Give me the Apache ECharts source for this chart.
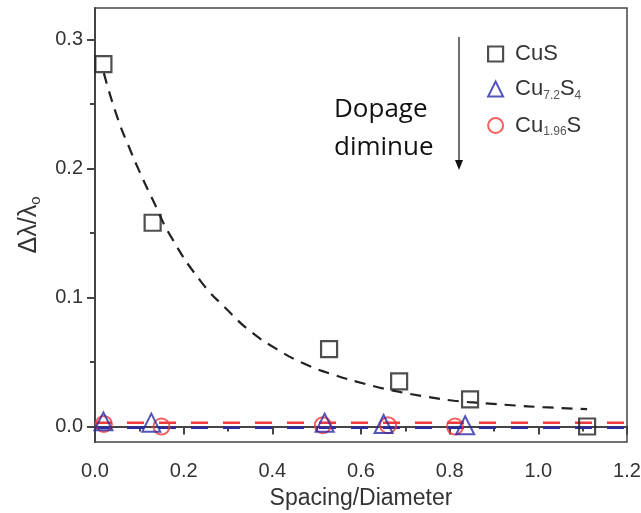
<!DOCTYPE html>
<html>
<head>
<meta charset="utf-8">
<script src="https://cdn.jsdelivr.net/npm/echarts@6/dist/echarts.min.js"></script>
<style>html,body{margin:0;padding:0;background:#fff}#c{width:641px;height:513px}</style>
</head>
<body>
<div id="c"></div>
<script>
// ---- data ----
const cusX = [0.019, 0.13, 0.528, 0.686, 0.846, 1.11];
const cusY = [0.281, 0.158, 0.060, 0.035, 0.021, 0.000];
const cu72X = [0.019, 0.127, 0.518, 0.651, 0.835];
const cu72Y = [0.004, 0.003, 0.003, 0.002, 0.001];
const cu196X = [0.02, 0.15, 0.514, 0.661, 0.812];
const cu196Y = [0.002, 0.000, 0.001, 0.001, 0.000];
const fitX = [0.02, 0.05, 0.08, 0.10, 0.13, 0.17, 0.24, 0.30, 0.35, 0.41, 0.47, 0.54, 0.61, 0.67, 0.75, 0.81, 0.88, 0.94, 1.01, 1.11];
const fitY = [0.274, 0.240, 0.214, 0.198, 0.176, 0.148, 0.112, 0.090, 0.074, 0.060, 0.049, 0.040, 0.033, 0.028, 0.023, 0.020, 0.018, 0.0165, 0.015, 0.0135];
const redLineX = [0, 1.2];
const redLineY = [0.003, 0.003];
const blueLineX = [0, 1.2];
const blueLineY = [-0.001, -0.001];
const yMajor = [0, 0.1, 0.2, 0.3];
const yMinor = [0.05, 0.15, 0.25];
const seriesNames = ['CuS', 'Cu7.2S4', 'Cu1.96S'];

const zip = (xs, ys) => xs.map((x, i) => [x, ys[i]]);
const FONT = '"Liberation Sans", Arial, sans-serif';
const BLACK = '#222', BLUE = '#2b2ba6', RED = '#f03a3a';

const chart = echarts.init(document.getElementById('c'), null, {renderer: 'canvas'});
const yRange = {min: -0.012, max: 0.3245};
chart.setOption({
  animation: false,
  grid: {left: 95, right: 14, top: 8, bottom: 71, outerBoundsMode: 'none', containLabel: false,
         show: true, borderColor: '#444', borderWidth: 1.5},
  xAxis: {
    type: 'value', min: 0, max: 1.2, interval: 0.2,
    name: 'Spacing/Diameter', nameLocation: 'middle', nameGap: 45,
    nameTextStyle: {fontFamily: FONT, fontSize: 23, color: '#333'},
    axisLine: {lineStyle: {color: '#444', width: 2}},
    axisTick: {length: 8, lineStyle: {color: '#444', width: 2}},
    minorTick: {show: true, splitNumber: 2, length: 5, lineStyle: {color: '#444', width: 2}},
    axisLabel: {margin: 19, fontFamily: FONT, fontSize: 20, color: '#333', formatter: v => v.toFixed(1)},
    splitLine: {show: false}
  },
  yAxis: [{
    type: 'value', ...yRange,
    name: '{a|Δλ/λ}{s|o}', nameLocation: 'middle', nameGap: 52, nameRotate: 90,
    nameTextStyle: {fontFamily: FONT, color: '#333', rich: {
      a: {fontFamily: FONT, fontSize: 25, color: '#333'},
      s: {fontFamily: FONT, fontSize: 15, color: '#333', padding: [12, 0, 0, 0]}
    }},
    axisLine: {lineStyle: {color: '#444', width: 2}},
    axisTick: {length: 8, customValues: yMajor, lineStyle: {color: '#444', width: 2}},
    axisLabel: {margin: 12, customValues: yMajor, fontFamily: FONT, fontSize: 20, color: '#333', formatter: v => v.toFixed(1)},
    splitLine: {show: false}
  }, {
    type: 'value', ...yRange, position: 'left', offset: 0,
    axisLine: {show: false},
    axisTick: {length: 5, customValues: yMinor, lineStyle: {color: '#444', width: 2}},
    axisLabel: {show: false, customValues: yMinor},
    splitLine: {show: false}
  }],
  legend: {
    orient: 'vertical', left: 482, top: 38, itemWidth: 15, itemHeight: 15, itemGap: 13,
    textStyle: {fontFamily: FONT, fontSize: 22, color: '#333', padding: [0, 0, 0, 7], rich: {
      t: {fontFamily: FONT, fontSize: 22, color: '#333'},
      s: {fontFamily: FONT, fontSize: 12, color: '#555', padding: [13, 0, 0, 0]}
    }},
    formatter: n => {
      if (n === 'CuS') return '{t|CuS}';
      if (n === 'Cu7.2S4') return '{t|Cu}{s|7.2}{t|S}{s|4}';
      return '{t|Cu}{s|1.96}{t|S}';
    },
    data: [
      {name: seriesNames[0], icon: 'rect', itemStyle: {color: 'transparent', borderColor: BLACK, borderWidth: 2.2}},
      {name: seriesNames[1], icon: 'triangle', itemStyle: {color: 'transparent', borderColor: BLUE, borderWidth: 2}},
      {name: seriesNames[2], icon: 'circle', itemStyle: {color: 'transparent', borderColor: RED, borderWidth: 2}}
    ]
  },
  series: [
    {type: 'line', data: zip(redLineX, redLineY), symbol: 'none', silent: true, z: 1,
     lineStyle: {color: RED, width: 2.5, type: [17, 15]}},
    {type: 'line', data: zip(blueLineX, blueLineY), symbol: 'none', silent: true, z: 1,
     lineStyle: {color: BLUE, width: 2.5, type: [17, 15]}},
    {type: 'line', data: zip(fitX, fitY), symbol: 'none', smooth: true, silent: true, z: 1,
     lineStyle: {color: BLACK, width: 2.2, type: [11, 8]}},
    {name: seriesNames[0], type: 'scatter', data: zip(cusX, cusY), symbol: 'rect', symbolSize: 16, z: 3,
     itemStyle: {color: 'transparent', borderColor: BLACK, borderWidth: 2.2}},
    {name: seriesNames[2], type: 'scatter', data: zip(cu196X, cu196Y), symbol: 'circle', symbolSize: 16, z: 3,
     itemStyle: {color: 'transparent', borderColor: RED, borderWidth: 2}},
    {name: seriesNames[1], type: 'scatter', data: zip(cu72X, cu72Y), symbol: 'triangle', symbolSize: 18, z: 4,
     itemStyle: {color: 'transparent', borderColor: BLUE, borderWidth: 2}}
  ],
  graphic: [
    {type: 'text', left: 334, top: 97, style: {text: 'Dopage', font: '26px "Open Sans", sans-serif', fill: '#111'}},
    {type: 'text', left: 334, top: 135, style: {text: 'diminue', font: '26px "Open Sans", sans-serif', fill: '#111'}},
    {type: 'line', shape: {x1: 459, y1: 37, x2: 459, y2: 162}, style: {stroke: '#111', lineWidth: 1.2}},
    {type: 'polygon', shape: {points: [[455, 160], [463, 160], [459, 170]]}, style: {fill: '#111'}}
  ]
});
</script>
</body>
</html>
